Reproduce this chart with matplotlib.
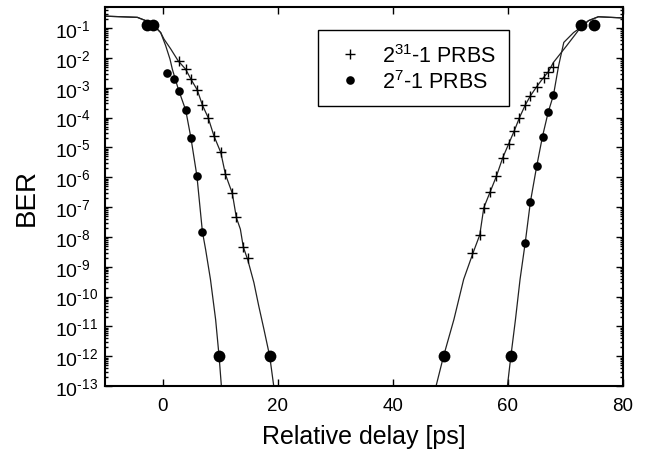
import numpy as np
import matplotlib
matplotlib.use("Agg")
import matplotlib.pyplot as plt
from matplotlib.lines import Line2D
from matplotlib.ticker import FixedLocator, LogLocator, FuncFormatter, NullFormatter

plt.rcParams['font.family'] = ['Liberation Sans', 'DejaVu Sans']
plt.rcParams['mathtext.fontset'] = 'custom'
plt.rcParams['mathtext.rm'] = 'Liberation Sans'
plt.rcParams['mathtext.it'] = 'Liberation Sans:italic'
plt.rcParams['mathtext.bf'] = 'Liberation Sans:bold'
plt.rcParams['axes.unicode_minus'] = False

# ---- data (BER vs relative delay, ps) ----
# 2^31-1 PRBS measured points (crosses)
prbs31_left_x = [2.8, 4.0, 4.86, 6.0, 6.9, 7.9, 8.9, 10.1, 10.9, 12.1, 12.8, 14.0, 14.8]
prbs31_left_ber = [7.9e-3, 4.2e-3, 1.9e-3, 8.5e-4, 2.6e-4, 1.0e-4, 2.5e-5, 6.8e-6,
                   1.3e-6, 2.9e-7, 4.5e-8, 4.7e-9, 1.9e-9]
prbs31_right_x = [53.8, 55.1, 55.8, 56.9, 58.0, 59.1, 60.1, 61.1, 62.0, 63.0, 63.9,
                  65.0, 66.2, 67.0, 67.9]
prbs31_right_ber = [2.9e-9, 1.2e-8, 9.5e-8, 3.2e-7, 1.1e-6, 4.6e-6, 1.3e-5, 3.6e-5,
                    1.0e-4, 2.6e-4, 5.4e-4, 1.1e-3, 2.2e-3, 3.4e-3, 4.8e-3]

# 2^7-1 PRBS measured points (small dots)
prbs7_left_x = [0.8, 2.0, 2.9, 4.0, 4.9, 5.95, 6.9]
prbs7_left_ber = [3.2e-3, 2.0e-3, 7.9e-4, 1.8e-4, 2.1e-5, 1.1e-6, 1.5e-8]
prbs7_right_x = [63.0, 63.9, 65.0, 66.0, 67.0, 67.9]
prbs7_right_ber = [6.5e-9, 1.5e-7, 2.4e-6, 2.3e-5, 1.5e-4, 5.6e-4]

# Large dots (edge / extrapolated points)
big_x = [-2.8, -1.6, 9.8, 18.6, 48.8, 60.5, 72.7, 75.0]
big_ber = [1.26e-1, 1.26e-1, 1e-12, 1e-12, 1e-12, 1e-12, 1.26e-1, 1.26e-1]

# Traces (log10 BER)
trace31_left_x = [-10, -4.4, -2.95, -1.6, -0.35, 0.23, 1.4, 2.7, 4.0, 4.9, 6.0, 6.9, 7.9,
                  8.9, 10.1, 10.9, 12.1, 12.8, 13.5, 14.0, 14.8, 15.85, 16.7, 17.6, 18.6, 19.3]
trace31_left_log = [-0.60, -0.64, -0.75, -0.90, -1.15, -1.37, -1.70, -2.10, -2.38, -2.71,
                    -3.07, -3.58, -4.00, -4.61, -5.17, -5.90, -6.54, -7.35, -7.74, -8.33,
                    -8.78, -9.53, -10.32, -11.1, -12.0, -13.0]
trace7_left_x = [-10, -4.4, -2.95, -1.6, -0.35, 0.52, 1.27, 1.68, 2.72, 4.0, 4.9, 5.95,
                 6.9, 7.46, 8.3, 9.2, 9.8, 10.2]
trace7_left_log = [-0.60, -0.64, -0.75, -0.90, -1.15, -1.59, -2.04, -2.38, -3.05, -3.75,
                   -4.67, -5.96, -7.82, -8.42, -9.42, -10.77, -12.0, -13.0]
trace31_right_x = [47.5, 48.8, 50.6, 52.3, 53.9, 55.1, 55.8, 56.9, 58.0, 59.1, 60.1, 61.1,
                   62.0, 63.0, 63.9, 65.0, 66.2, 67.0, 67.9, 70.2, 71.95, 72.7, 74.0,
                   75.7, 80.0]
trace31_right_log = [-13.0, -12.0, -10.77, -9.42, -8.55, -7.93, -7.02, -6.49, -5.96, -5.34,
                     -4.89, -4.44, -4.00, -3.58, -3.27, -2.96, -2.65, -2.47, -2.15, -1.59,
                     -1.15, -0.95, -0.75, -0.62, -0.66]
trace7_right_x = [59.9, 60.5, 61.3, 62.1, 63.0, 63.9, 65.0, 66.0, 67.0, 67.9, 68.8, 69.7,
                  71.4, 72.5, 74.0, 75.7, 80.0]
trace7_right_log = [-13.0, -12.0, -10.77, -9.42, -8.19, -6.82, -5.62, -4.63, -3.81, -3.25,
                    -2.26, -1.48, -1.15, -1.0, -0.75, -0.62, -0.66]

y_tick_exps = list(range(-13, 0))
x_ticks = [0, 20, 40, 60, 80]
legend_labels = [r'$2^{31}$-1 PRBS', r'$2^{7}$-1 PRBS']

fig = plt.figure(figsize=(6.45, 4.56), dpi=100)
ax = fig.add_axes([0.163, 0.151, 0.803, 0.831])

line_kw = dict(color='#222222', lw=0.9, zorder=2)
for tx, tl in [(trace31_left_x, trace31_left_log), (trace7_left_x, trace7_left_log),
               (trace31_right_x, trace31_right_log), (trace7_right_x, trace7_right_log)]:
    ax.plot(tx, np.power(10.0, tl), **line_kw)

cross_kw = dict(ls='none', marker='+', ms=7, mew=1.0, color='black', zorder=3)
ax.plot(prbs31_left_x, prbs31_left_ber, **cross_kw)
ax.plot(prbs31_right_x, prbs31_right_ber, **cross_kw)
dot_kw = dict(ls='none', marker='o', ms=6.2, color='black', mec='none', zorder=3)
ax.plot(prbs7_left_x, prbs7_left_ber, **dot_kw)
ax.plot(prbs7_right_x, prbs7_right_ber, **dot_kw)
ax.plot(big_x, big_ber, ls='none', marker='o', ms=8.5, color='black', mec='none', zorder=3)

ax.set_yscale('log')
ax.set_xlim(-10, 80)
ax.set_ylim(1e-13, 10**-0.3)
ax.yaxis.set_major_locator(FixedLocator([10.0**e for e in y_tick_exps]))
ax.yaxis.set_major_formatter(FuncFormatter(
    lambda v, p: r'$\mathdefault{10^{\text{-}%d}}$' % int(round(-np.log10(v)))))
ax.yaxis.set_minor_locator(LogLocator(base=10, subs=np.arange(2, 10), numticks=100))
ax.yaxis.set_minor_formatter(NullFormatter())
ax.set_xticks(x_ticks)

ax.tick_params(which='both', direction='in', top=True, right=True, width=1.0)
ax.tick_params(which='major', length=5)
ax.tick_params(axis='x', which='major', pad=8, labelsize=13.5)
ax.tick_params(axis='y', which='major', pad=36, labelsize=14)
ax.tick_params(which='minor', length=2.5)
for t in ax.yaxis.get_major_ticks():
    t.label1.set_horizontalalignment('left')
for s in ax.spines.values():
    s.set_linewidth(1.5)

ax.set_xlabel('Relative delay [ps]', fontsize=18, labelpad=7)
ax.set_ylabel('BER', fontsize=20)
ax.yaxis.set_label_coords(-0.127, 0.5)

handles = [Line2D([], [], ls='none', marker='+', ms=7, mew=1.0, color='black'),
           Line2D([], [], ls='none', marker='o', ms=6.2, color='black', mec='none')]
leg = ax.legend(handles, legend_labels, loc='upper left', bbox_to_anchor=(0.411, 0.939),
                fontsize=15.5, frameon=True, fancybox=False, framealpha=1,
                edgecolor='black', borderpad=0.62, labelspacing=0.15,
                handlelength=1.7, handletextpad=0.64, borderaxespad=0)
leg.get_frame().set_linewidth(1.0)

fig.savefig('out.png', dpi=100)
